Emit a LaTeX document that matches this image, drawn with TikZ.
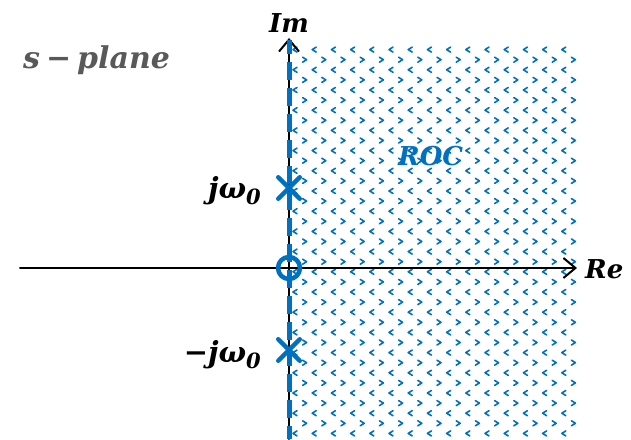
\documentclass[tikz,border=0pt]{standalone}
\usepackage{fontspec}
\usepackage{tikz}
\usetikzlibrary{arrows.meta,shapes.misc}

\newfontfamily\labelfont{DejaVu Serif}
\newcommand{\zerosub}{\raisebox{-0.22em}{\fontsize{21}{24}\selectfont 0}}

\definecolor{rocblue}{RGB}{0,112,192}
\definecolor{planegray}{RGB}{89,89,89}

\begin{document}
\begin{tikzpicture}[
	x=1pt, y=-1pt,
	every node/.style={font=\labelfont\bfseries\itshape\fontsize{26}{30}\selectfont, inner sep=0pt},
	axis/.style={line width=2pt, -{Straight Barb[length=12pt,width=20pt]}},
	pole/.style={cross out, draw=rocblue, line width=4.5pt, minimum size=17pt},
	zero/.style={circle, draw=rocblue, line width=4.5pt, minimum size=22pt},
	line cap=round,
	line join=round
	]

	\useasboundingbox (0,0) rectangle (631,439);

	% Shaded area (region of convergence)
	\begin{scope}
		\clip (291,40) rectangle (577,439);
		\foreach \i in {0,...,15}{
			\foreach \j in {-17,...,2}{
				\draw[rocblue, line width=1.6pt]
					(297+19.2*\i,390.5+20.2*\j) -- (293+19.2*\i,393+20.2*\j) -- (297+19.2*\i,395.5+20.2*\j);
				\draw[rocblue, line width=1.6pt]
					(302.6+19.2*\i,400.6+20.2*\j) -- (306.6+19.2*\i,403.1+20.2*\j) -- (302.6+19.2*\i,405.6+20.2*\j);
			}
		}
	\end{scope}

	% Axes
	\coordinate (reStart) at (20,268);
	\coordinate (reEnd) at (577,268);
	\coordinate (imStart) at (289,439);
	\coordinate (imEnd) at (289,38);
	\draw[axis] (reStart) -- (reEnd);
	\draw[axis] (imStart) -- (imEnd);
	\draw[rocblue, line width=5pt, line cap=butt, dash pattern=on 18pt off 8pt, dash phase=5pt]
		(imStart) -- (289,40);

	% Poles and zero
	\node[pole] (poleUp) at (289,188) {};
	\node[pole] (poleDown) at (289,350) {};
	\node[zero] (origin) at (289,268) {};

	% Labels
	\node[anchor=base] (imLabel) at (289,32) {Im};
	\node[anchor=base west] (reLabel) at (585,278) {Re};
	\node[anchor=base west, text=rocblue] (rocLabel) at (398,165) {ROC};
	\node[anchor=base east, font=\labelfont\bfseries\itshape\fontsize{29}{33}\selectfont] (poleUpLabel) at (261,198) {jω\zerosub};
	\node[anchor=base east, font=\labelfont\bfseries\itshape\fontsize{29}{33}\selectfont] (poleDownLabel) at (261,362) {−jω\zerosub};
	\node[anchor=base west, text=planegray, font=\labelfont\bfseries\itshape\fontsize{30}{34}\selectfont] (planeLabel) at (23,68) {s\hspace{0.2em}−\hspace{0.2em}plane};

\end{tikzpicture}
\end{document}
